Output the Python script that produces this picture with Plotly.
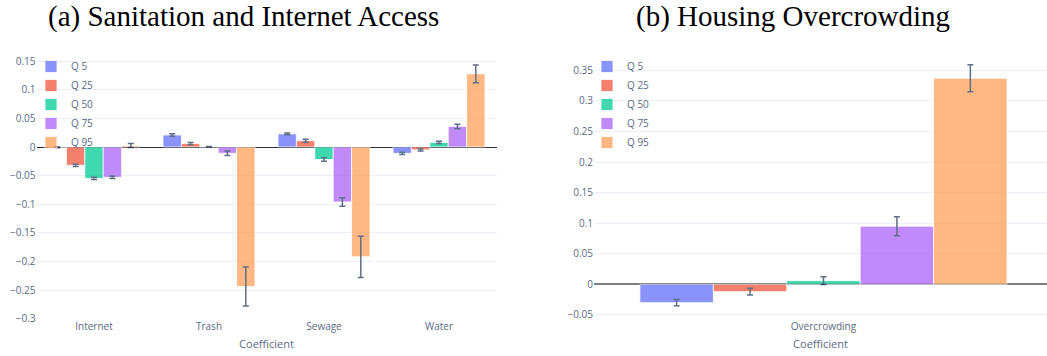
import plotly.graph_objects as go

# ---------------- data ----------------
quantiles = ["Q 5", "Q 25", "Q 50", "Q 75", "Q 95"]
colors = ["#636efa", "#EF553B", "#00cc96", "#ab63fa", "#FFA15A"]

categories_a = ["Internet", "Trash", "Sewage", "Water"]
q5_a = [-0.0005, 0.021, 0.023, -0.011]
q5_a_err = [0.001, 0.002, 0.0015, 0.002]
q25_a = [-0.032, 0.006, 0.011, -0.005]
q25_a_err = [0.002, 0.002, 0.0025, 0.002]
q50_a = [-0.055, 0.0005, -0.022, 0.008]
q50_a_err = [0.002, 0.0005, 0.003, 0.002]
q75_a = [-0.053, -0.011, -0.096, 0.036]
q75_a_err = [0.002, 0.004, 0.0075, 0.004]
q95_a = [0.0025, -0.244, -0.192, 0.128]
q95_a_err = [0.0035, 0.034, 0.036, 0.0155]

categories_b = ["Overcrowding"]
values_b = [-0.030, -0.012, 0.006, 0.095, 0.337]
errors_b = [0.005, 0.0055, 0.0065, 0.0155, 0.022]

title_a = "(a) Sanitation and Internet Access"
title_b = "(b) Housing Overcrowding"
x_title = "Coefficient"

# ---------------- figure ----------------
W, H = 1047, 356
fig = go.Figure()

series_a = [(q5_a, q5_a_err), (q25_a, q25_a_err), (q50_a, q50_a_err),
            (q75_a, q75_a_err), (q95_a, q95_a_err)]

err_style = dict(type="data", visible=True, color="#2a3f5f", thickness=1.5, width=3)

for name, color, (vals, errs) in zip(quantiles, colors, series_a):
    fig.add_trace(go.Bar(
        x=categories_a, y=vals, name=name,
        marker=dict(color=color, line=dict(color="white", width=0.8)),
        opacity=0.75,
        error_y=dict(array=errs, **err_style),
        xaxis="x", yaxis="y", legend="legend",
    ))

for name, color, val, err in zip(quantiles, colors, values_b, errors_b):
    fig.add_trace(go.Bar(
        x=categories_b, y=[val], name=name,
        marker=dict(color=color, line=dict(color="white", width=0.8)),
        opacity=0.75,
        error_y=dict(array=[err], **err_style),
        xaxis="x2", yaxis="y2", legend="legend2",
    ))

def px_x(p):
    return p / W

def px_y(p):
    return (H - p) / H

tick_font = dict(family="Open Sans, Arial, sans-serif", size=10, color="#5a6b85")
grid = "#EBF0F8"

fig.update_layout(
    template="plotly_white",
    width=W, height=H,
    margin=dict(l=0, r=0, t=0, b=0, autoexpand=False),
    paper_bgcolor="white", plot_bgcolor="white",
    barmode="group", bargap=0.2,
    font=dict(family="Open Sans, Arial, sans-serif", size=10, color="#5a6b85"),
    xaxis=dict(domain=[px_x(36.5), px_x(496.5)], anchor="y", automargin=False,
               tickfont=tick_font, showgrid=False, zeroline=False,
               title=dict(text=x_title, font=dict(size=11, color="#5a6b85"), standoff=8)),
    yaxis=dict(domain=[px_y(318.6), px_y(52)], anchor="x", automargin=False,
               range=[-0.3, 0.1661], dtick=0.05, tickfont=tick_font,
               gridcolor=grid, zeroline=True, zerolinecolor="#2b2f3a", zerolinewidth=1.2),
    xaxis2=dict(domain=[px_x(594), 1.0], anchor="y2", automargin=False,
                range=[-0.5, 0.487], tickfont=tick_font, showgrid=False, zeroline=False,
                title=dict(text=x_title, font=dict(size=11, color="#5a6b85"), standoff=8)),
    yaxis2=dict(domain=[px_y(318.6), px_y(52)], anchor="x2", automargin=False,
                range=[-0.0561, 0.38], dtick=0.05, tickfont=tick_font,
                gridcolor=grid, zeroline=True, zerolinecolor="#7f7f7f", zerolinewidth=1.6),
    legend=dict(x=px_x(31), y=px_y(52), xanchor="left", yanchor="top",
                bgcolor="rgba(255,255,255,0)", font=dict(size=10, color="#5a6b85")),
    legend2=dict(x=px_x(587), y=px_y(52), xanchor="left", yanchor="top",
                 bgcolor="rgba(255,255,255,0)", font=dict(size=10, color="#5a6b85")),
    annotations=[
        dict(text=title_a, x=px_x(243), y=px_y(17), xref="paper", yref="paper",
             xanchor="center", yanchor="middle", showarrow=False,
             font=dict(family="Liberation Serif, serif", size=29, color="black")),
        dict(text=title_b, x=px_x(792.5), y=px_y(17), xref="paper", yref="paper",
             xanchor="center", yanchor="middle", showarrow=False,
             font=dict(family="Liberation Serif, serif", size=29, color="black")),
    ],
)

fig.write_html("out.html", config={"displayModeBar": False})
